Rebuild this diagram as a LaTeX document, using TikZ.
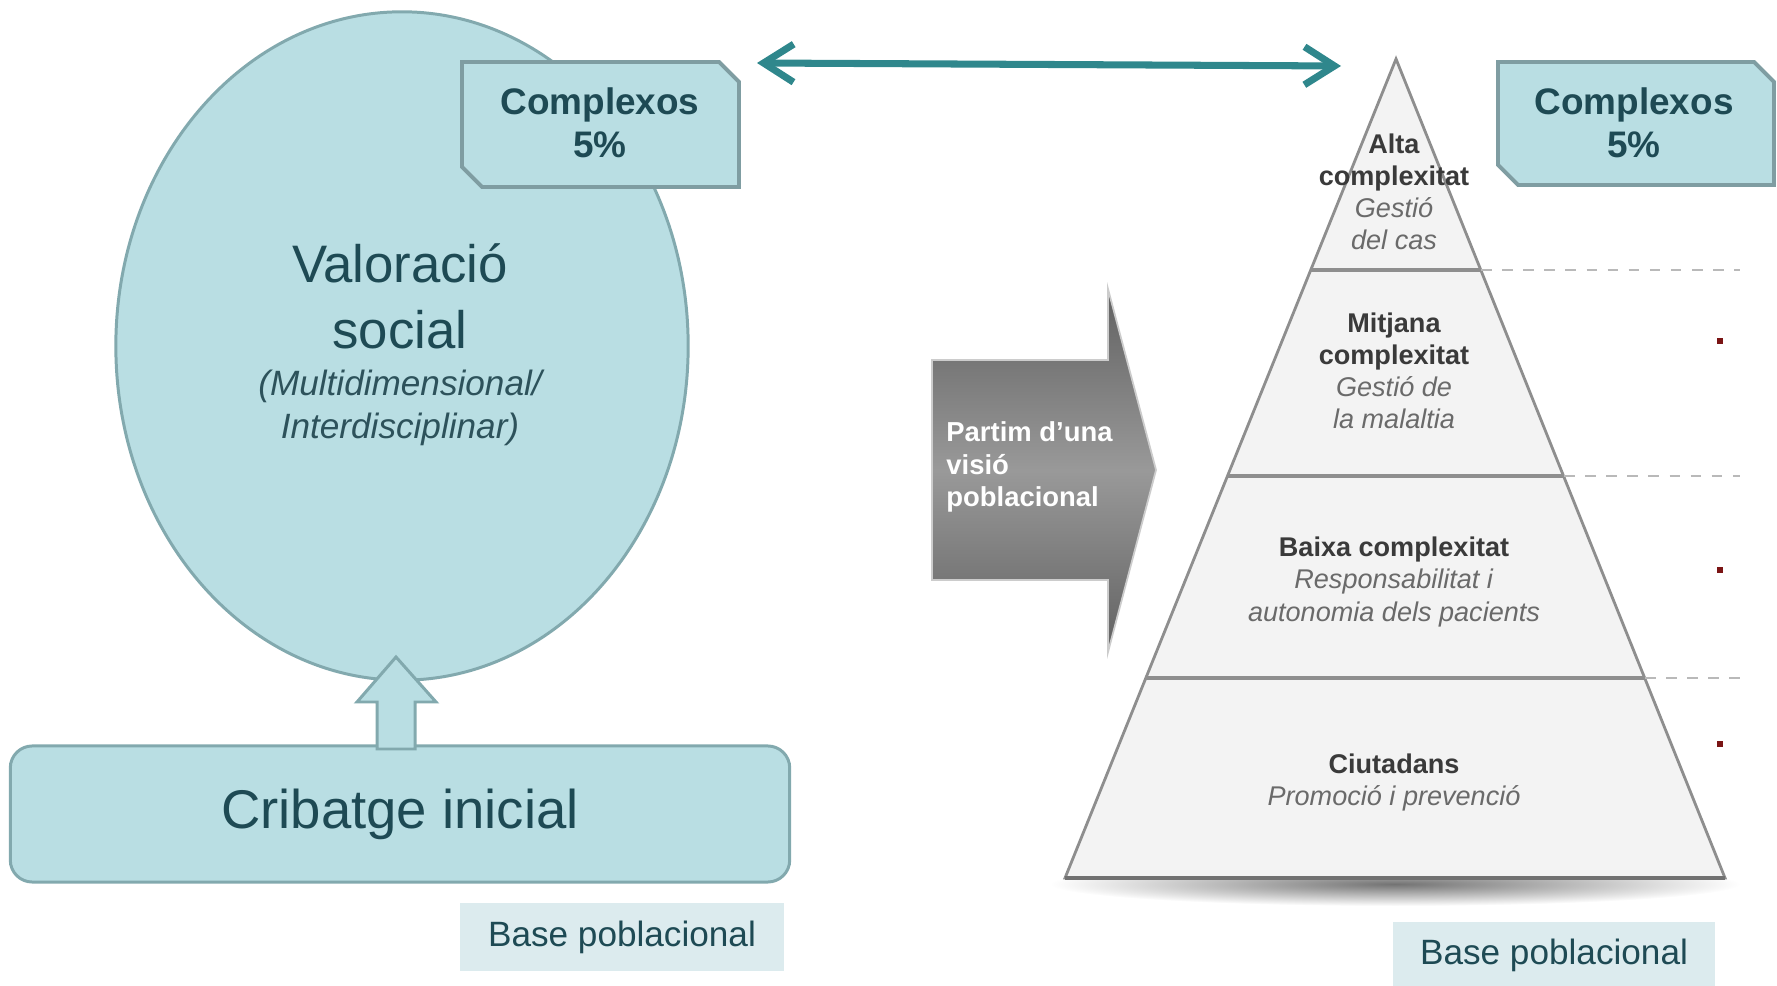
\documentclass[tikz,border=0pt]{standalone}
\usepackage{fontspec}
\setmainfont{Liberation Sans}
\usepackage{xcolor}
\usepackage{tikz}
\usetikzlibrary{shapes.geometric,arrows.meta}
\definecolor{tealfill}{HTML}{B9DEE3}
\definecolor{tealedge}{HTML}{82A9AE}
\definecolor{boxedge}{HTML}{7F9DA2}
\definecolor{tealtext}{HTML}{1E4A54}
\definecolor{arrowteal}{HTML}{2F878C}
\definecolor{basefill}{HTML}{DCEBEE}
\definecolor{pyrfill}{HTML}{F3F3F3}
\definecolor{pyredge}{HTML}{8E8E8E}
\definecolor{dotred}{HTML}{7A1414}
\definecolor{pbold}{HTML}{3A3A3A}
\definecolor{pital}{HTML}{6A6A6A}

\begin{document}
\begin{tikzpicture}[x=0.01cm,y=-0.01cm,
  cpx/.style={draw=boxedge,fill=tealfill,line width=1.1pt},
  cpxtxt/.style={text=tealtext,align=center,font=\fontsize{10.5}{12.2}\selectfont\bfseries},
  basebox/.style={fill=basefill,text=tealtext,font=\fontsize{10}{12}\selectfont},
  pyr/.style={align=center,text=pbold,font=\fontsize{7.7}{9.1}\selectfont}]
\useasboundingbox (0,0) rectangle (1777,986);
\node (vs) [ellipse,draw=tealedge,fill=tealfill,line width=0.85pt,minimum width=5.72cm,minimum height=6.68cm] at (402,346) {};
\node (vst) [text=tealtext,align=center,font=\fontsize{15}{18.8}\selectfont] at (400,296) {Valoració\\social};
\node (vsi) [text=tealtext!85!gray,align=center,font=\fontsize{10}{12.2}\selectfont\itshape] at (400,408) {(Multidimensional/\\Interdisciplinar)};
\draw[cpx] (462,62) -- (719,62) -- (739,82) -- (739,187) -- (482,187) -- (462,167) -- cycle;
\node (cxl) [cpxtxt] at (600,123) {Complexos\\5\%};
\draw[cpx] (1498,62) -- (1754,62) -- (1774,82) -- (1774,185) -- (1518,185) -- (1498,165) -- cycle;
\node (cxr) [cpxtxt] at (1634,123) {Complexos\\5\%};
\coordinate (al) at (757,63);
\coordinate (ar) at (1341,66);
\draw[arrowteal,line width=2pt,line cap=round,{Straight Barb[length=3mm,width=3.8mm]}-{Straight Barb[length=3mm,width=3.8mm]}] (al) -- (ar);
\node (cri) [draw=tealedge,fill=tealfill,line width=0.85pt,rounded corners=0.22cm,minimum width=7.79cm,minimum height=1.36cm,text=tealtext,font=\fontsize{15.5}{18}\selectfont] at (400,814) {Cribatge inicial};
\draw[draw=tealedge,fill=tealfill,line width=0.85pt] (377,749) -- (377,702) -- (357,702) -- (396,657) -- (436,702) -- (415,702) -- (415,749) -- cycle;
\node (bpl) [basebox,minimum width=3.23cm,minimum height=0.68cm] at (622,937) {Base poblacional};
\node (bpr) [basebox,minimum width=3.21cm,minimum height=0.66cm] at (1554,955) {Base poblacional};
\shade[inner color=black!55,outer color=white] (1395,884) ellipse (3.45cm and 0.22cm);
\coordinate (top) at (1396,59);
\coordinate (bl) at (1065,878);
\coordinate (br) at (1725,878);
\draw[fill=pyrfill,draw=pyredge,line width=0.8pt] (top) -- (br) -- (bl) -- cycle;
\draw[pyredge!80!black,line width=1.2pt] (bl) -- (br);
\foreach \y/\xl/\xr in {270/1311/1481,476/1228/1564,678/1146/1645}{
\draw[pyredge,line width=1pt](\xl,\y)--(\xr,\y);
\draw[gray!55,dashed,line width=0.7pt](\xr,\y)--(1740,\y);}
\foreach \y in {338,567,741}{
\fill[dotred](1717,\y) rectangle (1723,\y+6);}
\node (lv1) [pyr] at (1394,192) {\textbf{Alta}\\\textbf{complexitat}\\\textcolor{pital}{\textit{Gestió}}\\\textcolor{pital}{\textit{del cas}}};
\node (lv2) [pyr] at (1394,371) {\textbf{Mitjana}\\\textbf{complexitat}\\\textcolor{pital}{\textit{Gestió de}}\\\textcolor{pital}{\textit{la malaltia}}};
\node (lv3) [pyr] at (1394,582) {\textbf{Baixa complexitat}\\\textcolor{pital}{\textit{Responsabilitat i}}\\\textcolor{pital}{\textit{autonomia dels pacients}}};
\node (lv4) [pyr] at (1394,782) {\textbf{Ciutadans}\\\textcolor{pital}{\textit{Promoció i prevenció}}};
\shade[top color=black!62,bottom color=black!62,middle color=black!40,draw=black!20,line width=0.5pt] (932,360) -- (1108,360) -- (1108,289) -- (1156,470) -- (1108,652) -- (1108,580) -- (932,580) -- cycle;
\node (ptm) [anchor=west,align=left,text=white,font=\fontsize{7.8}{9.2}\selectfont\bfseries] at (934,467) {Partim d'una\\visió\\poblacional};
\end{tikzpicture}
\end{document}
